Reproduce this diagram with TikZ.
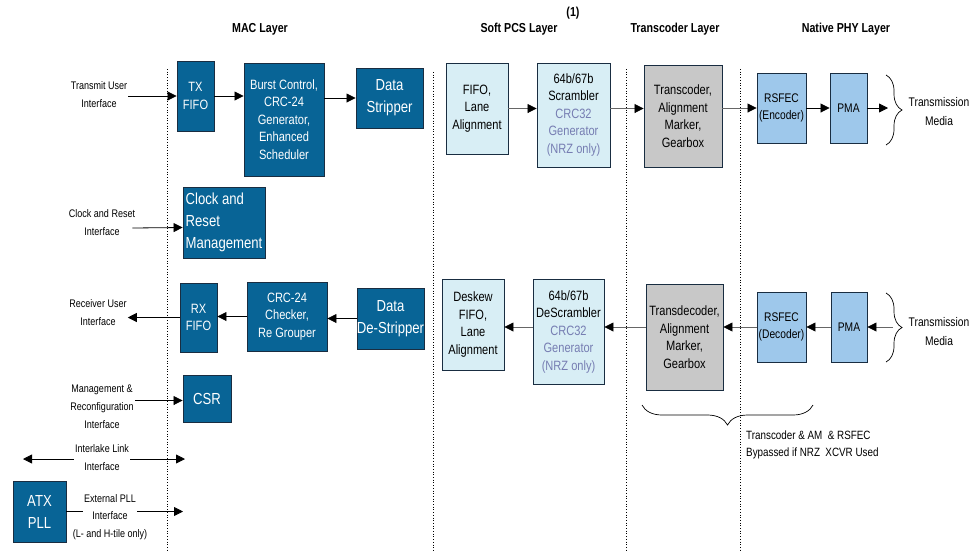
\documentclass[tikz,border=0pt]{standalone}
\usepackage{fontspec}
\setmainfont{Liberation Sans}[FakeStretch=0.82]
\usetikzlibrary{arrows.meta,decorations.pathreplacing,calc}

\definecolor{macblue}{RGB}{8,100,150}
\definecolor{macedge}{RGB}{25,45,65}
\definecolor{pcscyan}{RGB}{216,238,245}
\definecolor{trcgray}{RGB}{200,200,200}
\definecolor{phyblue}{RGB}{158,200,235}
\definecolor{crctext}{RGB}{118,125,178}

\tikzset{
  blk/.style={draw=macedge, line width=0.9pt, inner sep=0pt, align=center, font=\fontsize{13.5}{17.5}\selectfont},
  macblk/.style={blk, fill=macblue, text=white},
  bigtxt/.style={font=\fontsize{16}{22}\selectfont},
  pcsblk/.style={blk, fill=pcscyan},
  trcblk/.style={blk, fill=trcgray},
  phyblk/.style={blk, fill=phyblue, font=\fontsize{12.5}{17}\selectfont},
  iflbl/.style={align=center, inner sep=1pt, font=\fontsize{11}{18}\selectfont},
  medialbl/.style={align=center, inner sep=0pt, font=\fontsize{12.5}{19}\selectfont},
  layertitle/.style={font=\bfseries\fontsize{13}{16}\selectfont},
  arr/.style={-{Triangle[length=9pt,width=9pt]}, line width=0.8pt},
  gryarr/.style={draw=black!60, line width=0.8pt, -{Triangle[length=9pt,width=9pt,color=black]}},
  layersep/.style={dotted, line width=0.7pt},
  brc/.style={decorate, decoration={brace, amplitude=#1}, line width=0.7pt}
}

\begin{document}
\begin{tikzpicture}[x=1pt,y=1pt,yscale=-1,xscale=1]
\useasboundingbox (0,0) rectangle (976,550);

% Layer titles
\node[layertitle] (maclyr) at (260,29) {MAC Layer};
\node[layertitle] (pcslyr) at (519,29) {Soft PCS Layer};
\node[layertitle] (note1) at (573,13) {(1)};
\node[layertitle] (trclyr) at (675,29) {Transcoder Layer};
\node[layertitle] (phylyr) at (846,29) {Native PHY Layer};

% Layer separators
\draw[layersep] (167,69) -- (167,550);
\draw[layersep] (433,72) -- (433,550);
\draw[layersep] (626,69) -- (626,550);
\draw[layersep] (740,69) -- (740,550);

% MAC layer blocks
\node[macblk, minimum width=37pt, minimum height=70pt] (txfifo) at (195.5,96) {TX\\FIFO};
\node[macblk, minimum width=80pt, minimum height=113pt] (burst) at (284,119.5) {Burst Control,\\CRC-24\\Generator,\\Enhanced\\Scheduler};
\node[macblk, bigtxt, minimum width=67pt, minimum height=60pt] (strip) at (389.5,98) {Data\\Stripper};
\node[macblk, bigtxt, align=left, minimum width=82pt, minimum height=71pt] (crm) at (224,222.5) {Clock and\\Reset\\Management};
\node[macblk, minimum width=37pt, minimum height=69pt] (rxfifo) at (198.5,317.5) {RX\\FIFO};
\node[macblk, minimum width=80pt, minimum height=69pt] (crc) at (287,316.5) {CRC-24\\Checker,\\Re Grouper};
\node[macblk, bigtxt, minimum width=67pt, minimum height=61pt] (destrip) at (390.5,318.5) {Data\\De-Stripper};
\node[macblk, bigtxt, minimum width=48pt, minimum height=47pt] (csr) at (207,398.5) {CSR};
\node[macblk, bigtxt, minimum width=53pt, minimum height=61pt] (atx) at (39.5,511.5) {ATX\\PLL};

% Soft PCS blocks
\node[pcsblk, minimum width=62pt, minimum height=91pt] (fifolane) at (477,108.5) {FIFO,\\Lane\\Alignment};
\node[pcsblk, minimum width=73pt, minimum height=104pt] (scr) at (573.5,115) {64b/67b\\Scrambler\\{\color{crctext}CRC32}\\{\color{crctext}Generator}\\{\color{crctext}(NRZ only)}};
\node[pcsblk, minimum width=62pt, minimum height=91pt] (deskew) at (473,324.5) {Deskew\\FIFO,\\Lane\\Alignment};
\node[pcsblk, minimum width=71pt, minimum height=105pt] (dscr) at (568.5,331.5) {64b/67b\\DeScrambler\\{\color{crctext}CRC32}\\{\color{crctext}Generator}\\{\color{crctext}(NRZ only)}};

% Transcoder blocks
\node[trcblk, minimum width=78pt, minimum height=102pt] (trc) at (683,116) {Transcoder,\\Alignment\\Marker,\\Gearbox};
\node[trcblk, minimum width=77pt, minimum height=106pt] (trdec) at (684.5,337) {Transdecoder,\\Alignment\\Marker,\\Gearbox};

% Native PHY blocks
\node[phyblk, minimum width=49pt, minimum height=70pt] (rsenc) at (781.5,108) {RSFEC\\(Encoder)};
\node[phyblk, minimum width=37pt, minimum height=70pt] (pmatx) at (848.5,108) {PMA};
\node[phyblk, minimum width=49pt, minimum height=70pt] (rsdec) at (781.5,327) {RSFEC\\(Decoder)};
\node[phyblk, minimum width=36pt, minimum height=70pt] (pmarx) at (849,327) {PMA};

% Interface labels
\node[iflbl] (txif) at (99,95) {Transmit User\\Interface};
\node[iflbl] (clkif) at (102,223) {Clock and Reset\\Interface};
\node[iflbl] (rxif) at (98,313) {Receiver User\\Interface};
\node[iflbl] (mgmtif) at (102,407) {Management \&\\Reconfiguration\\Interface};
\node[iflbl] (ilk) at (102,457.5) {Interlake Link\\Interface};
\node[iflbl] (extpll) at (110,499) {External PLL};
\node[iflbl] (extnote) at (110,526) {Interface\\(L- and H-tile only)};
\node[medialbl] (txmed) at (939,112) {Transmission\\Media};
\node[medialbl] (rxmed) at (939,332) {Transmission\\Media};
\node[iflbl, align=left, anchor=west, inner sep=0pt, font=\fontsize{12}{17}\selectfont] (bypass) at (746,444.5) {Transcoder \& AM\ \ \& RSFEC\\Bypassed if NRZ\ \ XCVR Used};

% Free ends
\coordinate (ilkleft) at (23,459);
\coordinate (ilkright) at (185,459);
\coordinate (pllin) at (183,511.5);
\coordinate (txmedia) at (888,108);
\coordinate (rxmedia) at (893,327);

% MAC transmit path
\draw[arr] (txif.east |- txfifo.west) -- (txfifo.west);
\draw[arr] (txfifo.east) -- (txfifo.east -| burst.west);
\draw[arr] (burst.east |- strip.west) -- (strip.west);
\draw[arr] ($(clkif.east)+(-4,5)$) -- ($(crm.west)+(0,5)$);

% MAC receive path
\draw[arr] (destrip.west) -- (destrip.west -| crc.east);
\draw[arr] (crc.west) -- (crc.west -| rxfifo.east);
\draw[arr] (rxfifo.west) -- (rxfifo.west -| rxif.east);

% Other interfaces
\draw[arr] ($(mgmtif.east |- csr.west)+(0,2)$) -- ($(csr.west)+(0,2)$);
\draw[arr] (ilk.west |- ilkleft) -- (ilkleft);
\draw[arr] (ilk.east |- ilkright) -- (ilkright);
\draw[line width=0.8pt] (atx.east) -- (atx.east -| extpll.west);
\draw[arr] (extpll.east |- pllin) -- (pllin);

% PCS / PHY transmit path
\draw[gryarr] (fifolane.east) -- (fifolane.east -| scr.west);
\draw[gryarr] (scr.east |- fifolane.east) -- (trc.west |- fifolane.east);
\draw[gryarr] (trc.east |- rsenc.west) -- (rsenc.west);
\draw[arr] (rsenc.east) -- (pmatx.west);
\draw[arr] (pmatx.east) -- (txmedia);

% PCS / PHY receive path
\draw[gryarr] (rxmedia) -- (pmarx.east);
\draw[gryarr] (pmarx.west) -- (rsdec.east);
\draw[gryarr] (rsdec.west) -- (rsdec.west -| trdec.east);
\draw[gryarr] (trdec.west |- rsdec.west) -- (dscr.east |- rsdec.west);
\draw[gryarr] (dscr.west |- rsdec.west) -- (deskew.east |- rsdec.west);

% Braces
\draw[brc=16pt] (886,75) -- (886,145);
\draw[brc=16pt] (886,293) -- (886,362);
\draw[brc=20pt] (813,405) -- (642,405);

\end{tikzpicture}
\end{document}
